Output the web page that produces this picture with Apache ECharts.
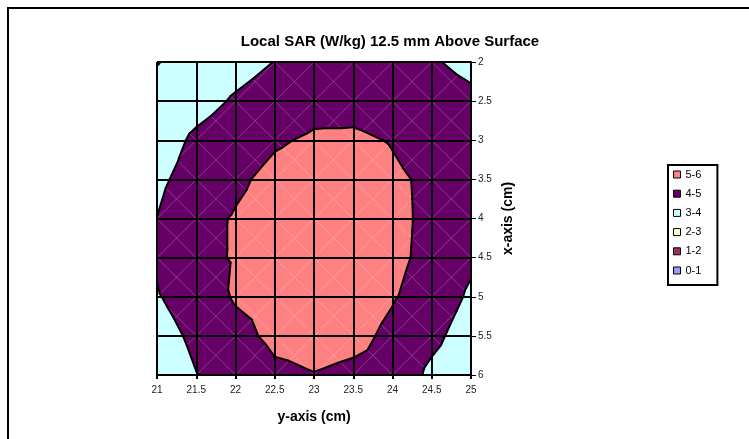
<!DOCTYPE html>
<html><head><meta charset="utf-8">
<script src="https://cdn.jsdelivr.net/npm/echarts@6/dist/echarts.min.js"></script>
<style>html,body{margin:0;padding:0;background:#fff}#c{width:749px;height:439px}</style>
</head><body><div id="c"></div>
<script>
// Horizontal axis positions (labelled "y-axis (cm)") and vertical axis positions (labelled "x-axis (cm)")
const yAxisCm = [21, 21.5, 22, 22.5, 23, 23.5, 24, 24.5, 25];
const xAxisCm = [2, 2.5, 3, 3.5, 4, 4.5, 5, 5.5, 6];

// Local SAR (W/kg), one row per x-axis position (2 .. 6 cm), values along y-axis 21 .. 25 cm
const sar_x2_0 = [2.97, 3.30, 3.60, 4.02, 4.35, 4.45, 4.40, 4.10, 3.715];
const sar_x2_5 = [3.25, 3.60, 4.12, 4.50, 4.75, 4.80, 4.70, 4.50, 4.24];
const sar_x3_0 = [3.45, 4.20, 4.60, 4.915, 5.10, 5.10, 4.968, 4.75, 4.30];
const sar_x3_5 = [3.80, 4.425, 4.867, 5.20, 5.35, 5.35, 5.09, 4.90, 4.50];
const sar_x4_0 = [4.01, 4.77, 5.057, 5.30, 5.45, 5.45, 5.20, 4.815, 4.50];
const sar_x4_5 = [4.08, 4.80, 5.056, 5.30, 5.45, 5.40, 5.15, 4.824, 4.20];
const sar_x5_0 = [3.95, 4.37, 5.10, 5.25, 5.40, 5.35, 5.05, 4.70, 3.825];
const sar_x5_5 = [3.70, 4.155, 4.68, 5.23, 5.30, 5.20, 4.843, 4.30, 3.42];
const sar_x6_0 = [3.50, 3.983, 4.153, 4.80, 4.974, 4.843, 4.81, 3.744, 3.20];

// Legend bands
const bandNames = ['5-6', '4-5', '3-4', '2-3', '1-2', '0-1'];
const bandLow = [5, 4, 3, 2, 1, 0];
const bandHigh = [6, 5, 4, 3, 2, 1];
const contourLevels = [1, 2, 3, 4, 5];

const bandColors = ['#FF8080', '#660066', '#CCFFFF', '#FFFFCC', '#993366', '#9999FF'];

const grid = [sar_x2_0, sar_x2_5, sar_x3_0, sar_x3_5, sar_x4_0, sar_x4_5, sar_x5_0, sar_x5_5, sar_x6_0];

// cells: one data item per grid cell, [yAxisCm, xAxisCm, colIndex, rowIndex]
const cells = [];
for (let j = 0; j < xAxisCm.length - 1; j++)
  for (let i = 0; i < yAxisCm.length - 1; i++)
    cells.push([yAxisCm[i], xAxisCm[j], i, j]);

function cellTris(i, j) {
  const x0 = yAxisCm[i], x1 = yAxisCm[i + 1], y0 = xAxisCm[j], y1 = xAxisCm[j + 1];
  const a = [x0, y0, grid[j][i]], b = [x1, y0, grid[j][i + 1]],
        c = [x1, y1, grid[j + 1][i + 1]], d = [x0, y1, grid[j + 1][i]];
  const m = [(x0 + x1) / 2, (y0 + y1) / 2, (a[2] + b[2] + c[2] + d[2]) / 4];
  return [[a, b, m], [b, c, m], [c, d, m], [d, a, m]];
}
function clipPoly(poly, level, keepAbove) {
  const out = [];
  for (let k = 0; k < poly.length; k++) {
    const P = poly[k], Q = poly[(k + 1) % poly.length];
    const pin = keepAbove ? P[2] >= level : P[2] <= level;
    const qin = keepAbove ? Q[2] >= level : Q[2] <= level;
    if (pin) out.push(P);
    if (pin !== qin) {
      const t = (level - P[2]) / (Q[2] - P[2]);
      out.push([P[0] + t * (Q[0] - P[0]), P[1] + t * (Q[1] - P[1]), level]);
    }
  }
  return out;
}

function bandSeries(b) {
  return {
    type: 'custom', name: bandNames[b], coordinateSystem: 'cartesian2d',
    silent: true, z: 2,
    itemStyle: { color: bandColors[b] },
    encode: { x: 0, y: 1 },
    data: cells,
    renderItem: function (params, api) {
      const i = api.value(2), j = api.value(3);
      const children = [];
      cellTris(i, j).forEach(function (tri) {
        let p = clipPoly(tri, bandLow[b], true);
        if (p.length >= 3) p = clipPoly(p, bandHigh[b], false);
        if (p.length >= 3) {
          children.push({
            type: 'polygon',
            shape: { points: p.map(function (q) { return api.coord([q[0], q[1]]); }) },
            style: { fill: bandColors[b], stroke: bandColors[b], lineWidth: 0.8 }
          });
        }
      });
      return { type: 'group', children: children };
    }
  };
}

const wireSeries = {
  type: 'custom', name: 'wire', coordinateSystem: 'cartesian2d', silent: true, z: 3,
  encode: { x: 0, y: 1 }, data: cells,
  renderItem: function (params, api) {
    const i = api.value(2), j = api.value(3);
    const a = api.coord([yAxisCm[i], xAxisCm[j]]), c = api.coord([yAxisCm[i + 1], xAxisCm[j + 1]]);
    const b = api.coord([yAxisCm[i + 1], xAxisCm[j]]), d = api.coord([yAxisCm[i], xAxisCm[j + 1]]);
    const st = { stroke: 'rgba(255,255,255,0.28)', lineWidth: 0.7 };
    return { type: 'group', children: [
      { type: 'line', shape: { x1: a[0], y1: a[1], x2: c[0], y2: c[1] }, style: st },
      { type: 'line', shape: { x1: b[0], y1: b[1], x2: d[0], y2: d[1] }, style: st }
    ] };
  }
};

const contourSeries = {
  type: 'custom', name: 'contours', coordinateSystem: 'cartesian2d', silent: true, z: 4,
  encode: { x: 0, y: 1 }, data: cells,
  renderItem: function (params, api) {
    const i = api.value(2), j = api.value(3);
    const children = [];
    cellTris(i, j).forEach(function (tri) {
      contourLevels.forEach(function (L) {
        const pts = [];
        for (let k = 0; k < 3; k++) {
          const P = tri[k], Q = tri[(k + 1) % 3];
          if ((P[2] - L) * (Q[2] - L) < 0) {
            const t = (L - P[2]) / (Q[2] - P[2]);
            pts.push(api.coord([P[0] + t * (Q[0] - P[0]), P[1] + t * (Q[1] - P[1])]));
          }
        }
        if (pts.length === 2) {
          children.push({ type: 'line', shape: { x1: pts[0][0], y1: pts[0][1], x2: pts[1][0], y2: pts[1][1] },
            style: { stroke: '#000', lineWidth: 2, lineCap: 'round' } });
        }
      });
    });
    return { type: 'group', children: children };
  }
};

const chart = echarts.init(document.getElementById('c'), null, { renderer: 'canvas' });
const FONT = '"Liberation Sans", Arial, sans-serif';
chart.setOption({
  animation: false,
  backgroundColor: '#fff',
  textStyle: { fontFamily: FONT },
  title: {
    text: 'Local SAR (W/kg) 12.5 mm Above Surface', left: 385, top: 29, textAlign: 'center',
    textStyle: { fontSize: 15, fontWeight: 'bold', color: '#000', fontFamily: FONT }
  },
  graphic: [{ type: 'rect', shape: { x: 8, y: 8, width: 800, height: 500 },
    style: { fill: 'none', stroke: '#000', lineWidth: 2 }, silent: true, z: 100 }],
  legend: {
    data: bandNames, orient: 'vertical', left: 668, top: 165,
    icon: 'rect', itemWidth: 7, itemHeight: 7, itemGap: 8.2,
    padding: [4, 16, 9, 5],
    borderColor: '#000', borderWidth: 2,
    itemStyle: { borderColor: '#000', borderWidth: 1 },
    textStyle: { fontSize: 11, color: '#000', fontFamily: FONT },
    selectedMode: false
  },
  grid: { left: 157, right: 278, top: 62, bottom: 64, containLabel: false },
  xAxis: {
    type: 'value', min: 21, max: 25, interval: 0.5, z: 10,
    axisLine: { onZero: false, lineStyle: { color: '#000', width: 2 } },
    axisTick: { length: 4, lineStyle: { color: '#000', width: 2 } },
    splitLine: { show: true, lineStyle: { color: '#000', width: 2 } },
    axisLabel: { fontSize: 10, color: '#222', margin: 10, fontFamily: FONT },
    name: 'y-axis (cm)', nameLocation: 'middle', nameGap: 35,
    nameTextStyle: { fontSize: 14, fontWeight: 'bold', color: '#000', fontFamily: FONT }
  },
  yAxis: {
    type: 'value', min: 2, max: 6, interval: 0.5, inverse: true, position: 'right', z: 10,
    axisLine: { onZero: false, lineStyle: { color: '#000', width: 2 } },
    axisTick: { length: 5, lineStyle: { color: '#000', width: 1 } },
    splitLine: { show: true, lineStyle: { color: '#000', width: 2 } },
    axisLabel: { fontSize: 10, color: '#222', margin: 7, fontFamily: FONT },
    name: 'x-axis (cm)', nameLocation: 'middle', nameGap: 30, nameRotate: 90,
    nameTextStyle: { fontSize: 14, fontWeight: 'bold', color: '#000', fontFamily: FONT }
  },
  series: [0, 1, 2, 3, 4, 5].map(bandSeries).concat([wireSeries, contourSeries])
});
</script></body></html>
